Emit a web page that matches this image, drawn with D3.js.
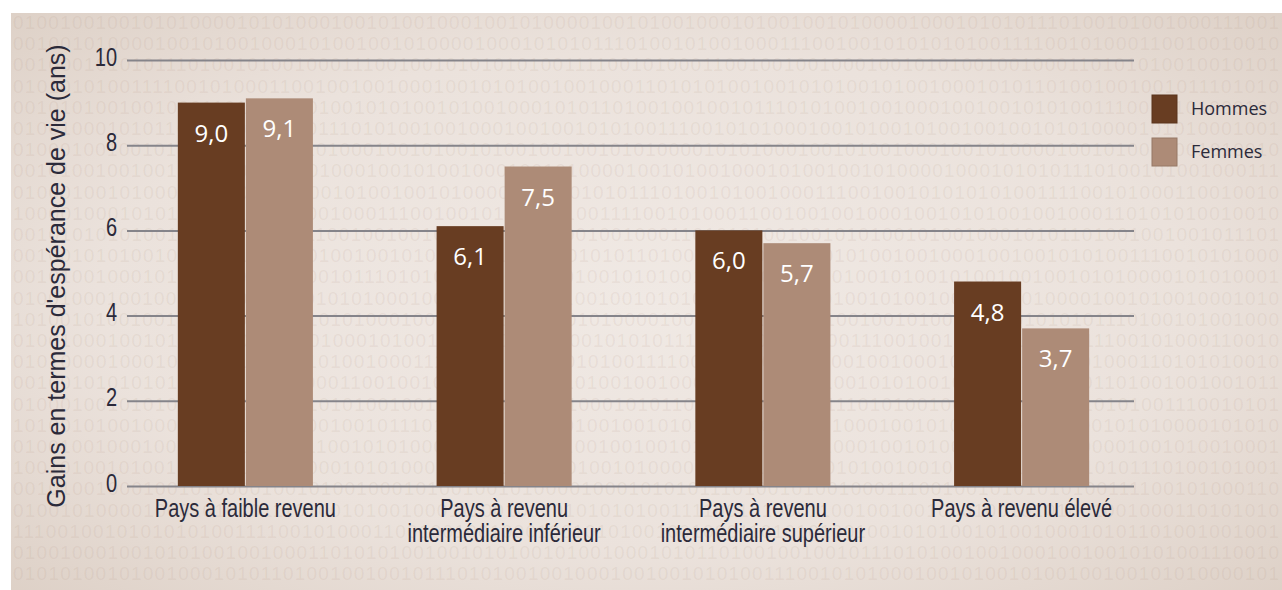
<!DOCTYPE html>
<html>
<head>
<meta charset="utf-8">
<script src="https://cdn.jsdelivr.net/npm/d3@7"></script>
<style>
  html, body { margin: 0; padding: 0; background: #ffffff; }
  svg { display: block; }
</style>
</head>
<body>
<svg id="chart" width="1282" height="590"></svg>
<script>
// ---------- data ----------
const categories = ["Pays à faible revenu", "Pays à revenu\nintermédiaire inférieur", "Pays à revenu\nintermédiaire supérieur", "Pays à revenu élevé"];
const seriesNames = ["Hommes", "Femmes"];
const hommes = [9.0, 6.1, 6.0, 4.8];
const femmes = [9.1, 7.5, 5.7, 3.7];
const yTicks = [0, 2, 4, 6, 8, 10];
const yTitle = "Gains en termes d'espérance de vie (ans)";
// decorative binary texture of the background
const binaryPool = "0100100100101010000101010001001010010001001010000100101001000101001001010000100010101011101001010010001110010010101010100111100101000110010010010001001010100100100011010101001001010100101001000101011010010010010111010100100100010010010101001110010101000100101001";

// ---------- styles ----------
const colors = { Hommes: "#683d22", Femmes: "#ad8b77" };
const textColor = "#2b2a3a";
const sans = "'Liberation Sans', Arial, sans-serif";
const squeeze = 0.8;

const svg = d3.select("#chart");
const W = 1282, H = 590;

// ---------- background ----------
const defs = svg.append("defs");
const grad = defs.append("radialGradient").attr("id", "bg").attr("cx", "0.5").attr("cy", "0.5").attr("r", "0.72");
grad.append("stop").attr("offset", "0%").attr("stop-color", "#f0e9e4");
grad.append("stop").attr("offset", "60%").attr("stop-color", "#ebe2dc");
grad.append("stop").attr("offset", "100%").attr("stop-color", "#ddd0c6");

svg.append("rect").attr("x", 11).attr("y", 13).attr("width", W - 11).attr("height", H - 13)
  .attr("fill", "url(#bg)");

const texture = svg.append("g");
const rows = d3.range(27);
texture.selectAll("text").data(rows).join("text")
  .attr("x", 13)
  .attr("y", i => 29 + i * 21.2)
  .attr("font-family", sans)
  .attr("font-size", 19)
  .attr("textLength", 1266)
  .attr("lengthAdjust", "spacing")
  .attr("fill", "#a88470")
  .attr("fill-opacity", 0.11)
  .text(i => {
    const off = (i * 37) % binaryPool.length;
    const s = binaryPool + binaryPool;
    return s.slice(off, off + 108);
  });

// ---------- scales ----------
const y = d3.scaleLinear().domain([0, 10]).range([486, 60]);
const x0 = d3.scaleBand().domain(d3.range(categories.length)).range([116, 1151])
  .paddingInner(0.478).paddingOuter(0.239);
const x1 = d3.scaleBand().domain(seriesNames).range([0, x0.bandwidth()]).paddingInner(0.015);

// ---------- grid / y axis ----------
const gridLeft = 127, gridRight = 1134;
const yAxis = d3.axisLeft(y).tickValues(yTicks).tickSizeInner(-(gridRight - gridLeft)).tickSizeOuter(0).tickPadding(10);
const ga = svg.append("g").attr("transform", `translate(${gridLeft},0)`).call(yAxis);
ga.select(".domain").remove();
ga.selectAll(".tick line").attr("stroke", "#85848a").attr("stroke-width", 2);
ga.selectAll(".tick text")
  .attr("font-family", sans).attr("font-size", 25).attr("fill", textColor)
  .attr("x", -10 / squeeze)
  .attr("transform", `scale(${squeeze},1)`)
  .attr("dy", "0.2em");

// ---------- bars ----------
const table = categories.map((c, i) => ({ i, values: [
  { key: "Hommes", value: hommes[i] },
  { key: "Femmes", value: femmes[i] }
]}));
const fmt = d3.formatLocale({ decimal: ",", thousands: " ", grouping: [3], currency: ["", "€"] }).format(".1f");

const groups = svg.append("g").selectAll("g").data(table).join("g")
  .attr("transform", d => `translate(${x0(d.i)},0)`);
groups.selectAll("rect").data(d => d.values).join("rect")
  .attr("x", d => x1(d.key))
  .attr("y", d => y(d.value))
  .attr("width", x1.bandwidth())
  .attr("height", d => y(0) - y(d.value))
  .attr("fill", d => colors[d.key]);
groups.selectAll("text").data(d => d.values).join("text")
  .attr("x", d => x1(d.key) + x1.bandwidth() / 2)
  .attr("y", d => y(d.value) + 39)
  .attr("text-anchor", "middle")
  .attr("font-family", "'Open Sans', 'Noto Sans', sans-serif")
  .attr("font-size", 24)
  .attr("fill", "#ffffff")
  .text(d => fmt(d.value));

// ---------- category labels ----------
const cat = svg.append("g").selectAll("g").data(categories).join("g")
  .attr("transform", (d, i) => `translate(${x0(i) + x0.bandwidth() / 2},517) scale(${squeeze},1)`)
  .append("text")
  .attr("text-anchor", "middle")
  .attr("font-family", sans)
  .attr("font-size", 25)
  .attr("fill", textColor);
cat.selectAll("tspan").data(d => d.split("\n")).join("tspan")
  .attr("x", 0)
  .attr("dy", (d, j) => j === 0 ? 0 : 25)
  .text(d => d);

// ---------- y title ----------
svg.append("text")
  .attr("transform", "translate(65,276) rotate(-90)")
  .attr("text-anchor", "middle")
  .attr("font-family", sans)
  .attr("font-size", 25)
  .attr("fill", textColor)
  .text(yTitle);

// ---------- legend ----------
const legend = svg.append("g").attr("transform", "translate(1152,95)");
const li = legend.selectAll("g").data(seriesNames).join("g")
  .attr("transform", (d, i) => `translate(0,${i * 43})`);
li.append("rect").attr("width", 25).attr("height", 28)
  .attr("fill", d => colors[d])
  .attr("stroke", d => d3.color(colors[d]).darker(0.4)).attr("stroke-width", 1);
li.append("text").attr("x", 39).attr("y", 20)
  .attr("font-family", "'Open Sans', 'Noto Sans', sans-serif")
  .attr("font-size", 18)
  .attr("fill", textColor)
  .text(d => d);
</script>
</body>
</html>
